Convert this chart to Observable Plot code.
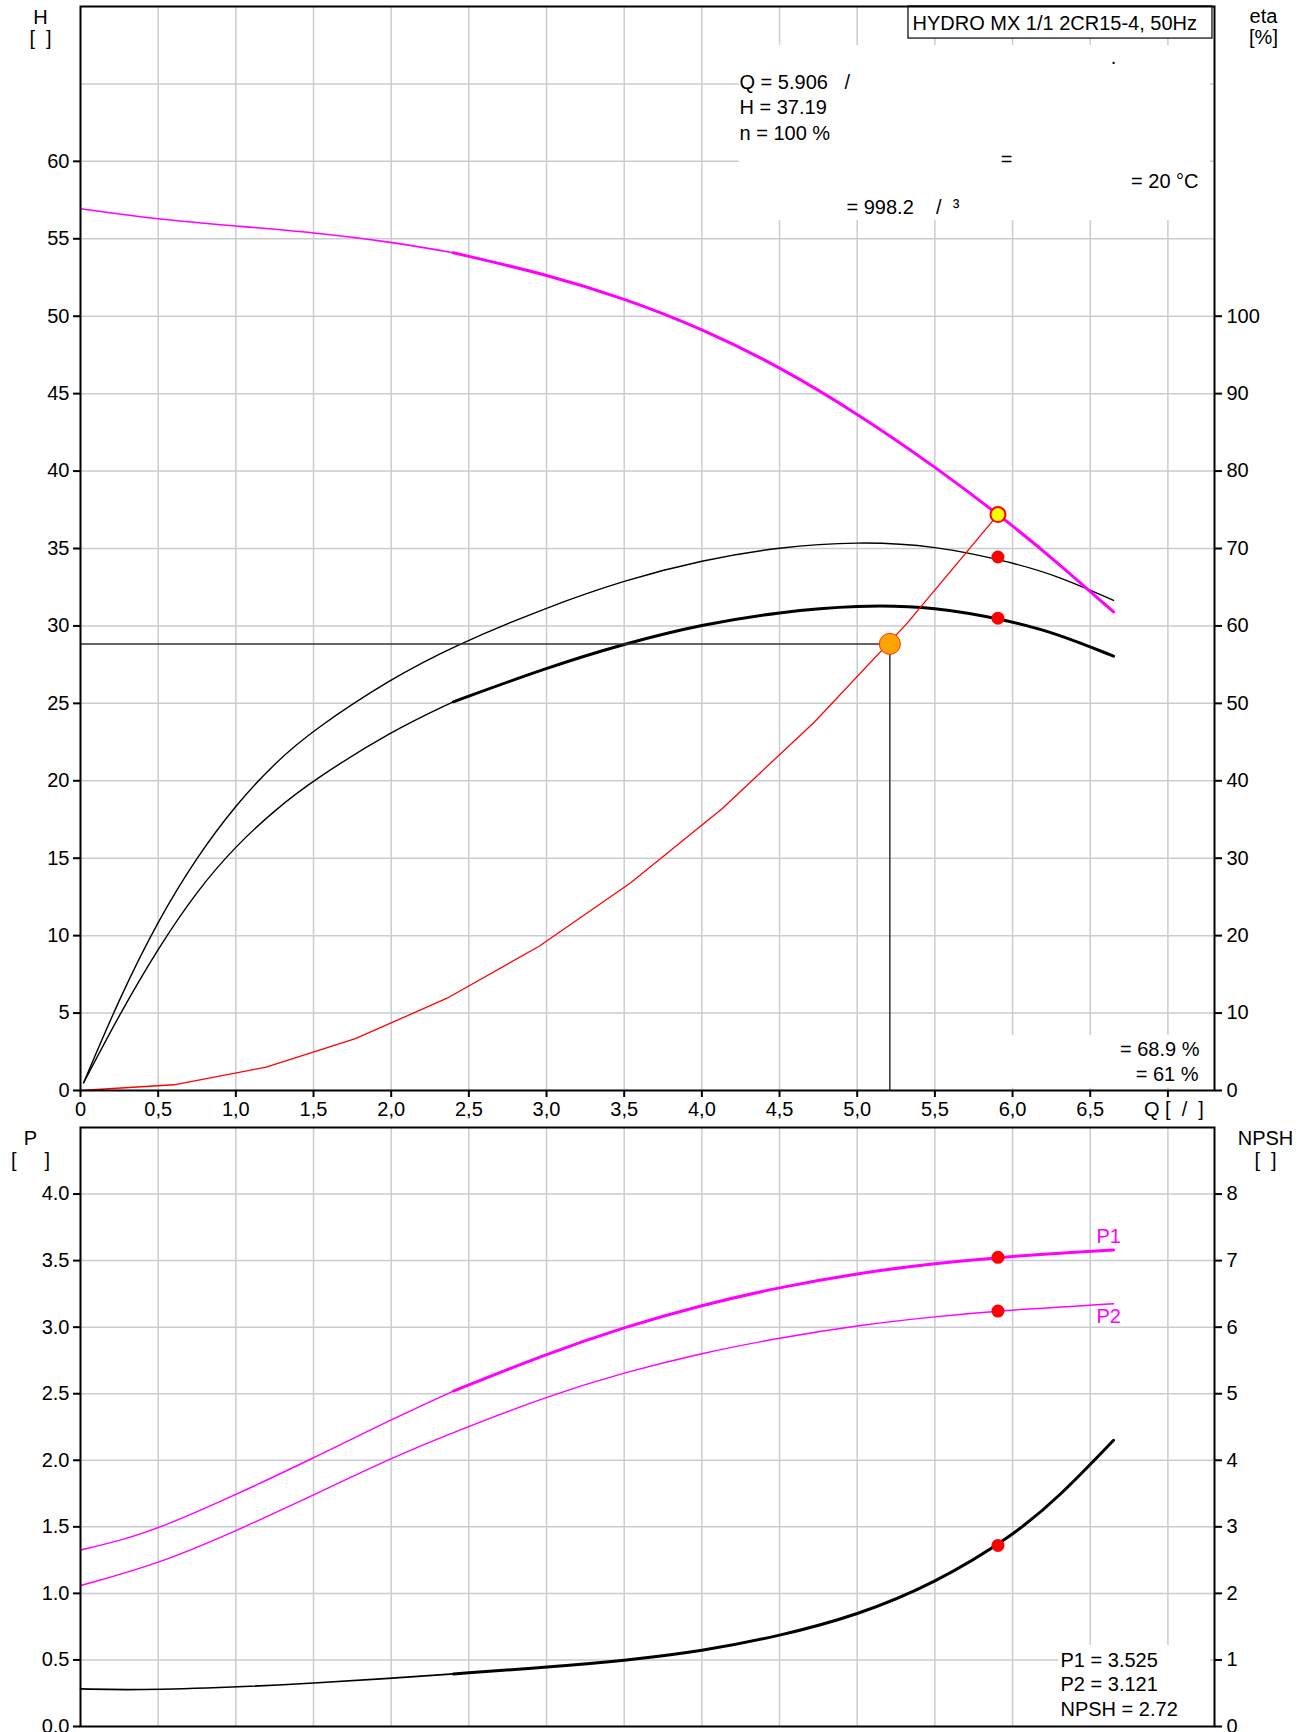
<!DOCTYPE html>
<html><head><meta charset="utf-8">
<script src="https://cdn.jsdelivr.net/npm/d3@7"></script>
<script src="https://cdn.jsdelivr.net/npm/@observablehq/plot@0.6"></script>
<style>
html,body{margin:0;padding:0;background:#fff;}
#chart svg{display:block;}
</style></head><body><div id="chart"></div>
<script>
// ---------- data ----------
const title = "HYDRO MX 1/1 2CR15-4, 50Hz";

// Q-H curve (head, left axis)
const qhQ = [0, 0.5, 1.0, 1.5, 2.0, 2.4, 3.0, 3.5, 4.0, 4.5, 5.0, 5.5, 6.0, 6.3, 6.65];
const qhH = [56.94, 56.25, 55.82, 55.41, 54.8, 54.1, 52.7, 51.15, 49.2, 46.74, 43.73, 40.3, 36.5, 34.0, 30.9];

// efficiency curves (right axis, %)
const etaPumpQ = [0.02, 0.25, 0.5, 0.75, 1.0, 1.25, 1.5, 2.0, 2.4, 3.0, 3.5, 4.0, 4.5, 5.0, 5.5, 6.0, 6.3, 6.65];
const etaPumpV = [1.0, 11.9, 22.0, 30.2, 36.9, 42.3, 46.6, 53.2, 57.4, 62.4, 65.9, 68.5, 70.2, 70.9, 70.4, 68.2, 66.4, 63.3];
const etaTotQ = [0.02, 0.25, 0.5, 0.75, 1.0, 1.25, 1.5, 2.0, 2.4, 3.0, 3.5, 4.0, 4.5, 5.0, 5.5, 6.0, 6.3, 6.65];
const etaTotV = [1.0, 9.8, 18.4, 25.8, 31.6, 36.2, 40.1, 46.4, 50.2, 54.6, 57.7, 60.2, 61.8, 62.7, 62.5, 60.6, 58.9, 56.1];

// system curve (left axis)
const sysQ = [0, 0.601, 1.19, 1.77, 2.36, 2.95, 3.54, 4.13, 4.725, 5.315, 5.906];
const sysH = [0, 0.37, 1.5, 3.35, 5.96, 9.3, 13.4, 18.2, 23.8, 30.1, 37.19];

// power curves (bottom, left axis)
const p1Q = [0, 0.25, 0.5, 1.0, 1.5, 2.0, 2.4, 3.0, 3.5, 4.0, 4.5, 5.0, 5.5, 6.0, 6.3, 6.65];
const p1V = [1.326, 1.395, 1.485, 1.74, 2.017, 2.306, 2.52, 2.80, 3.0, 3.167, 3.30, 3.405, 3.48, 3.533, 3.555, 3.58];
const p2Q = [0, 0.5, 1.0, 1.5, 2.0, 2.4, 3.0, 3.5, 4.0, 4.5, 5.0, 5.5, 6.0, 6.3, 6.65];
const p2V = [1.059, 1.22, 1.468, 1.738, 2.017, 2.21, 2.48, 2.66, 2.806, 2.92, 3.013, 3.08, 3.13, 3.15, 3.176];

// NPSH curve (bottom, right axis)
const npshQ = [0, 0.35, 1.0, 1.5, 2.0, 2.4, 3.0, 3.5, 4.0, 4.5, 5.0, 5.5, 6.0, 6.3, 6.65];
const npshV = [0.565, 0.545, 0.59, 0.65, 0.725, 0.79, 0.89, 0.99, 1.13, 1.36, 1.67, 2.15, 2.86, 3.45, 4.3];

// duty point values
const dutyQ = 5.906, dutyH = 37.19, dutyN = 100;
const dutyEtaPump = 68.9, dutyEtaTot = 61;
const dutyP1 = 3.525, dutyP2 = 3.121, dutyNPSH = 2.72;
const density = 998.2, temperature = 20;
// marked point on the system curve
const markQ = 5.21, markH = 28.84;
// flow where the thick (allowed range) part of the curves starts
const rangeStartQ = 2.4;

// ticks
const qTicks = [0, 0.5, 1, 1.5, 2, 2.5, 3, 3.5, 4, 4.5, 5, 5.5, 6, 6.5, 7];
const qGrid = [0.5, 1, 1.5, 2, 2.5, 3, 3.5, 4, 4.5, 5, 5.5, 6, 6.5, 7];
const hTicks = [0, 5, 10, 15, 20, 25, 30, 35, 40, 45, 50, 55, 60];
const hGrid = [5, 10, 15, 20, 25, 30, 35, 40, 45, 50, 55, 60, 65];
const etaTicks = [0, 10, 20, 30, 40, 50, 60, 70, 80, 90, 100];
const pTicks = [0, 0.5, 1, 1.5, 2, 2.5, 3, 3.5, 4];
const npshTicks = [0, 1, 2, 3, 4, 5, 6, 7, 8];

// ---------- helpers ----------
const tbl = (xs, ys) => xs.map((q, i) => ({q, v: ys[i]}));
const qhData = tbl(qhQ, qhH), etaPump = tbl(etaPumpQ, etaPumpV), etaTot = tbl(etaTotQ, etaTotV);
const sysData = tbl(sysQ, sysH), p1Data = tbl(p1Q, p1V), p2Data = tbl(p2Q, p2V), npshData = tbl(npshQ, npshV);
const lo = arr => arr.filter(d => d.q <= rangeStartQ);
const hi = arr => arr.filter(d => d.q >= rangeStartQ);

const FONT = "'Liberation Sans', Arial, Helvetica, sans-serif";
const GRID = "#c9cdd1";
const MAG = "#ff00ff";
const NB = "\u00a0";
const fs = 20;
const crv = "basis";
const fmtQ = d => d === 7 ? "" : d === 0 ? "0" : d.toFixed(1).replace(".", ",");
const txt = (s, o) => Plot.text([s], {text: d => d, fontSize: fs, fill: "black", lineAnchor: "bottom", ...o});

// ---------- top chart ----------
const chartTop = Plot.plot({
  width: 1309, height: 1120,
  marginLeft: 80, marginRight: 95, marginTop: 6, marginBottom: 30,
  x: {domain: [0, 7.3]},
  y: {domain: [0, 70]},
  style: {fontFamily: FONT, fontSize: "20px", color: "black", background: "white", overflow: "visible"},
  marks: [
    Plot.gridX(qGrid, {stroke: GRID, strokeOpacity: 1, strokeWidth: 1.5}),
    Plot.gridY(hGrid, {stroke: GRID, strokeOpacity: 1, strokeWidth: 1.5}),
    // white label backgrounds
    Plot.rect([{a: 4.242, b: 7.274, c: 56.18, d: 67.48}], {x1: "a", x2: "b", y1: "c", y2: "d", fill: "white"}),
    Plot.rect([{a: 5.92, b: 7.274, c: 0.15, d: 3.55}], {x1: "a", x2: "b", y1: "c", y2: "d", fill: "white"}),
    Plot.rect([{a: 5.33, b: 7.287, c: 67.93, d: 70}], {x1: "a", x2: "b", y1: "c", y2: "d", fill: "white", stroke: "black", strokeWidth: 1.2}),
    // curves
    Plot.line(etaPump, {x: "q", y: d => d.v / 2, stroke: "black", strokeWidth: 1.4, curve: crv}),
    Plot.line(lo(etaTot), {x: "q", y: d => d.v / 2, stroke: "black", strokeWidth: 1.4, curve: crv}),
    Plot.line(hi(etaTot), {x: "q", y: d => d.v / 2, stroke: "black", strokeWidth: 3, curve: crv}),
    Plot.line(lo(qhData), {x: "q", y: "v", stroke: MAG, strokeWidth: 1.6, curve: crv}),
    Plot.line(hi(qhData), {x: "q", y: "v", stroke: MAG, strokeWidth: 3, curve: crv}),
    Plot.line([{q: 0, v: markH}, {q: markQ, v: markH}, {q: markQ, v: 0}], {x: "q", y: "v", stroke: "#333", strokeWidth: 1.5}),
    Plot.line(sysData, {x: "q", y: "v", stroke: "red", strokeWidth: 1.3}),
    Plot.dot([{q: dutyQ, v: dutyEtaPump / 2}, {q: dutyQ, v: dutyEtaTot / 2}], {x: "q", y: "v", r: 6.5, fill: "red", stroke: "none"}),
    Plot.dot([{q: markQ, v: markH}], {x: "q", y: "v", r: 10.5, fill: "#ffa500", stroke: "#ff3000", strokeWidth: 1}),
    Plot.dot([{q: dutyQ, v: dutyH}], {x: "q", y: "v", r: 7.5, fill: "#ffff00", stroke: "red", strokeWidth: 2}),
    // texts
    txt(title, {frameAnchor: "top-left", dx: 832, dy: 23, textAnchor: "start"}),
    txt("H", {frameAnchor: "top-left", dx: -40, dy: 17, textAnchor: "middle"}),
    txt(`[${NB}${NB}]`, {frameAnchor: "top-left", dx: -40, dy: 38, textAnchor: "middle"}),
    txt("eta", {frameAnchor: "top-right", dx: 49, dy: 16, textAnchor: "middle"}),
    txt("[%]", {frameAnchor: "top-right", dx: 49, dy: 37, textAnchor: "middle"}),
    txt(`Q = ${dutyQ}${NB}${NB}${NB}/\nH = ${dutyH}\nn = ${dutyN} %`, {frameAnchor: "top-left", dx: 659, dy: 133, textAnchor: "start", lineHeight: 1.27}),
    txt(".", {frameAnchor: "top-left", dx: 1033, dy: 57, textAnchor: "middle"}),
    txt("=", {frameAnchor: "top-left", dx: 926, dy: 159, textAnchor: "middle"}),
    txt(`= ${temperature} °C`, {frameAnchor: "top-right", dx: -16, dy: 181, textAnchor: "end"}),
    txt(`= ${density}${NB}${NB}${NB}${NB}/${NB}${NB}³`, {frameAnchor: "top-left", dx: 766, dy: 207, textAnchor: "start"}),
    txt(`= ${dutyEtaPump} %`, {frameAnchor: "bottom-right", dx: -15, dy: -35, textAnchor: "end"}),
    txt(`= ${dutyEtaTot} %`, {frameAnchor: "bottom-right", dx: -16, dy: -10, textAnchor: "end"}),
    Plot.frame({stroke: "black", strokeWidth: 2}),
    Plot.axisX(qTicks, {tickSize: 7, tickPadding: 4, tickFormat: fmtQ, fontSize: fs, strokeWidth: 2, label: null}),
    Plot.text([`Q${NB}[${NB}${NB}/${NB}${NB}]`], {x: () => qTicks[qTicks.length - 1], frameAnchor: "bottom", dx: 6, dy: 11, text: d => d, fontSize: fs, fill: "black", lineAnchor: "top"}),
    Plot.axisY(hTicks, {anchor: "left", tickSize: 7, tickPadding: 4, fontSize: fs, strokeWidth: 2, label: null}),
    Plot.axisY(etaTicks.map(e => e / 2), {anchor: "right", tickSize: 7, tickPadding: 5, tickFormat: d => String(d * 2), fontSize: fs, strokeWidth: 2, label: null})
  ]
});

// ---------- bottom chart ----------
const chartBottom = Plot.plot({
  width: 1309, height: 612,
  marginLeft: 80, marginRight: 95, marginTop: 7, marginBottom: 6,
  x: {domain: [0, 7.3], axis: null},
  y: {domain: [0, 4.5]},
  style: {fontFamily: FONT, fontSize: "20px", color: "black", background: "white", overflow: "visible"},
  marks: [
    Plot.gridX(qGrid, {stroke: GRID, strokeOpacity: 1, strokeWidth: 1.5}),
    Plot.gridY(pTicks.slice(1), {stroke: GRID, strokeOpacity: 1, strokeWidth: 1.5}),
    Plot.rect([{a: 6.296, b: 7.274, c: 0, d: 0.609}], {x1: "a", x2: "b", y1: "c", y2: "d", fill: "white"}),
    Plot.line(p2Data, {x: "q", y: "v", stroke: MAG, strokeWidth: 1.4, curve: crv}),
    Plot.line(lo(p1Data), {x: "q", y: "v", stroke: MAG, strokeWidth: 1.4, curve: crv}),
    Plot.line(hi(p1Data), {x: "q", y: "v", stroke: MAG, strokeWidth: 3, curve: crv}),
    Plot.line(lo(npshData), {x: "q", y: d => d.v / 2, stroke: "black", strokeWidth: 1.6, curve: crv}),
    Plot.line(hi(npshData), {x: "q", y: d => d.v / 2, stroke: "black", strokeWidth: 3, curve: crv}),
    Plot.dot([{q: dutyQ, v: dutyP1}, {q: dutyQ, v: dutyP2}, {q: dutyQ, v: dutyNPSH / 2}], {x: "q", y: "v", r: 6.5, fill: "red", stroke: "none"}),
    Plot.text(["P1"], {x: () => 6.54, y: () => 3.63, text: d => d, fill: MAG, fontSize: fs, textAnchor: "start", lineAnchor: "bottom"}),
    Plot.text(["P2"], {x: () => 6.54, y: () => 3.035, text: d => d, fill: MAG, fontSize: fs, textAnchor: "start", lineAnchor: "bottom"}),
    txt("P", {frameAnchor: "top-left", dx: -50, dy: 17, textAnchor: "middle"}),
    txt(`[${NB}${NB}${NB}${NB}${NB}]`, {frameAnchor: "top-left", dx: -50, dy: 39, textAnchor: "middle"}),
    txt("NPSH", {frameAnchor: "top-right", dx: 51, dy: 17, textAnchor: "middle"}),
    txt(`[${NB}${NB}]`, {frameAnchor: "top-right", dx: 51, dy: 39, textAnchor: "middle"}),
    txt(`P1 = ${dutyP1}\nP2 = ${dutyP2}\nNPSH = ${dutyNPSH}`, {frameAnchor: "bottom-left", dx: 980, dy: -11, textAnchor: "start", lineHeight: 1.225}),
    Plot.frame({stroke: "black", strokeWidth: 2}),
    Plot.axisY(pTicks, {anchor: "left", tickSize: 7, tickPadding: 4, tickFormat: d => d.toFixed(1), fontSize: fs, strokeWidth: 2, label: null}),
    Plot.axisY(npshTicks.map(n => n / 2), {anchor: "right", tickSize: 7, tickPadding: 5, tickFormat: d => String(d * 2), fontSize: fs, strokeWidth: 2, label: null})
  ]
});

const root = document.getElementById("chart");
root.appendChild(chartTop);
root.appendChild(chartBottom);
</script>
</body></html>
